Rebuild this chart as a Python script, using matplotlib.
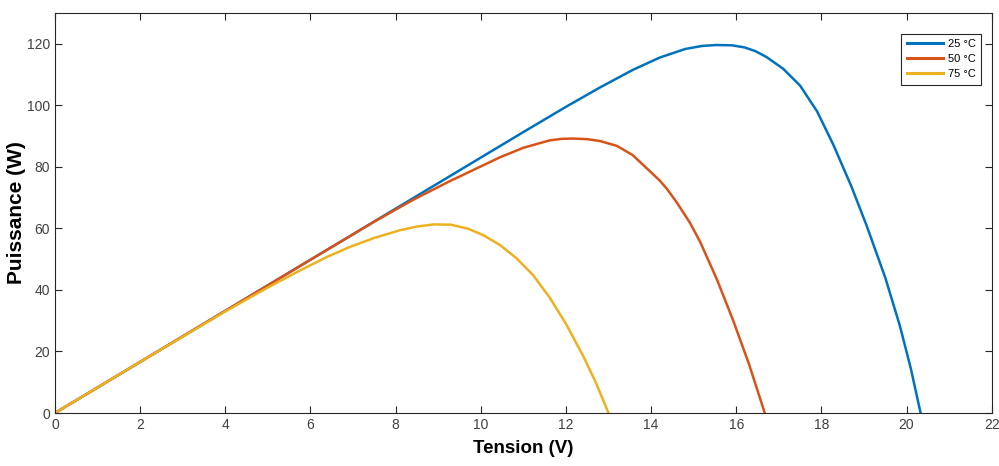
import matplotlib.pyplot as plt
import numpy as np

# tension (V) / puissance (W)
v_25 = [0, 2, 4, 6, 8, 10, 11, 12, 12.8, 13.57, 14.2, 14.8, 15.2, 15.54, 15.9,
        16.2, 16.45, 16.71, 17.1, 17.5, 17.9, 18.28, 18.7, 19.06, 19.5, 19.84,
        20.1, 20.33]
p_25 = [0, 16.6, 33.2, 49.8, 66.4, 83, 91.3, 99.5, 105.8, 111.5, 115.5, 118.3, 119.3,
        119.6, 119.5, 118.8, 117.6, 115.7, 111.9, 106.4, 98.0, 87.2, 73.8, 61.0,
        44.0, 28.5, 14.5, 0]

v_50 = [0, 2, 4, 6, 7.5, 8.4, 9.28, 10.45, 11.0, 11.62, 11.9, 12.17, 12.5, 12.8,
        13.2, 13.57, 13.97, 14.2, 14.37, 14.6, 14.91, 15.15, 15.55, 15.93, 16.3, 16.67]
p_50 = [0, 16.6, 33.2, 49.8, 62.2, 69.2, 75.4, 83.1, 86.2, 88.6, 89.1, 89.2, 89.0,
        88.4, 86.8, 83.8, 78.6, 75.6, 72.9, 68.5, 61.9, 55.7, 43.3, 30.0, 15.9, 0]

v_75 = [0, 2, 4, 5.0, 5.75, 6.4, 6.93, 7.5, 8.1, 8.5, 8.9, 9.3, 9.7, 10.06, 10.45,
        10.84, 11.23, 11.62, 12.0, 12.41, 12.7, 13.0]
p_75 = [0, 16.6, 33.0, 40.8, 46.3, 50.8, 54.0, 56.9, 59.4, 60.6, 61.3, 61.2, 59.9,
        57.8, 54.6, 50.3, 44.8, 37.5, 29.0, 18.4, 10.0, 0]

labels = ['25 °C', '50 °C', '75 °C']
colors = ['#0072BD', '#D95319', '#EDB120']

plt.rcParams['font.family'] = ['Liberation Sans', 'DejaVu Sans']

fig = plt.figure(figsize=(9.99, 4.66), dpi=100)
ax = fig.add_axes([0.055, 0.1137, 0.9377, 0.8584])

for v, p, lab, c in zip([v_25, v_50, v_75], [p_25, p_50, p_75], labels, colors):
    ax.plot(v, p, color=c, lw=1.8, label=lab)

ax.set_xlim(0, 22)
ax.set_ylim(0, 130)
ax.set_xticks(np.arange(0, 23, 2))
ax.set_yticks(np.arange(0, 121, 20))
ax.tick_params(direction='in', top=True, right=True, length=5, width=0.8,
               colors='#262626', labelcolor='#404040', labelsize=10)
for s in ax.spines.values():
    s.set_color('#262626')
    s.set_linewidth(0.8)

ax.set_xlabel('Tension (V)', fontsize=13.5, fontweight='bold', labelpad=6)
ax.set_ylabel('Puissance (W)', fontsize=15, fontweight='bold')
ax.yaxis.set_label_coords(-0.031, 0.5)

leg = ax.legend(loc='upper right', bbox_to_anchor=(0.995, 0.962), fontsize=8,
                handlelength=3.3, borderpad=0.5, labelspacing=0.45,
                handletextpad=0.4, fancybox=False, framealpha=1)
leg.get_frame().set_edgecolor('#262626')
leg.get_frame().set_linewidth(0.8)
for line in leg.get_lines():
    line.set_linewidth(2.2)

fig.savefig('out.png', dpi=100)
